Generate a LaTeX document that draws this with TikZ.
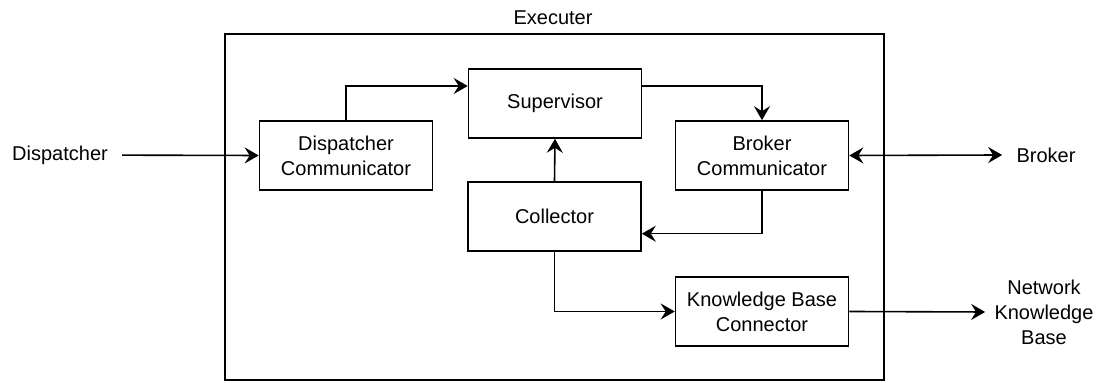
\documentclass[tikz,border=0pt]{standalone}
\usepackage{fontspec}
\setmainfont{Liberation Sans}
\usetikzlibrary{arrows.meta}

\begin{document}
\begin{tikzpicture}[x=0.5pt, y=-0.5pt, font=\fontsize{10pt}{12.5pt}\selectfont,
        >={Stealth[length=7pt, width=8pt, inset=2.5pt]},
        blk/.style={draw, line width=0.8pt, minimum width=86.5pt, minimum height=34.5pt, align=center, inner sep=0pt},
        lbl/.style={inner sep=7pt, align=center},
        conn/.style={line width=0.8pt, ->}]
        \useasboundingbox (0, 0) rectangle (1104, 383);

        % outer frame
        \draw[line width=0.8pt] (225, 34) rectangle (884, 380);
        \node (execlbl) at (553, 18) {Executer};

        \node[blk] (sup) at (555, 103.5) {Supervisor};
        \node[blk] (dc) at (346, 155.5) {Dispatcher\\Communicator};
        \node[blk] (bc) at (762, 155.5) {Broker\\Communicator};
        \node[blk] (col) at (554.5, 216.5) {Collector};
        \node[blk] (kb) at (762, 311.5) {Knowledge Base\\Connector};

        \node[lbl] (disp) at (60, 155) {Dispatcher};
        \node[lbl] (brk) at (1046, 155) {Broker};
        \node[lbl, inner sep=4.5pt] (net) at (1044, 312) {Network\\Knowledge\\Base};

        \draw[conn] (disp) -- (dc.west);
        \draw[conn] (dc.north) |- ([yshift=8.75pt]sup.west);
        \draw[conn] ([yshift=8.75pt]sup.east) -| (bc.north);
        \draw[conn] (col.north) -- (sup.south);
        \draw[conn] (bc.south) |- ([yshift=-8.6pt]col.east);
        \draw[conn] (col.south) |- (kb.west);
        \draw[conn, <->] (bc.east) -- (brk.west);
        \draw[conn] (kb.east) -- (net.west);
\end{tikzpicture}
\end{document}
